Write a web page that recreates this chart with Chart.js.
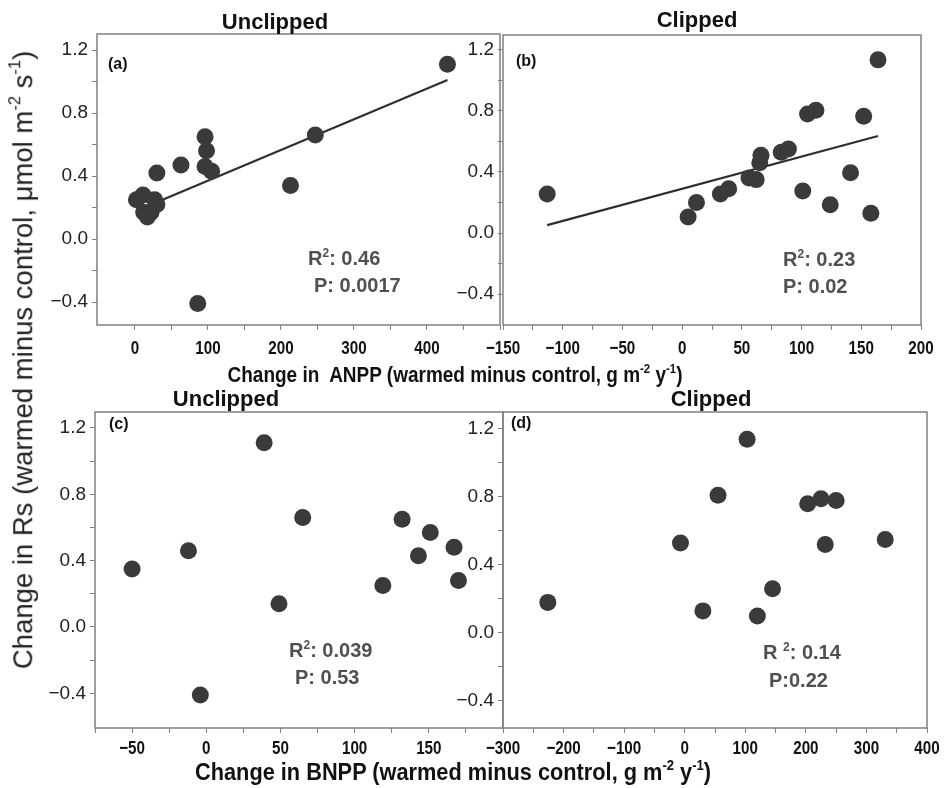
<!DOCTYPE html>
<html>
<head>
<meta charset="utf-8">
<script src="https://cdn.jsdelivr.net/npm/chart.js@4.4.1/dist/chart.umd.min.js"></script>
<style>
  html, body { margin:0; padding:0; background:#fff; }
  #wrap { position:relative; width:945px; height:788px; overflow:hidden; background:#fff; }
  .pn { position:absolute; }
  .t { position:absolute; white-space:nowrap; line-height:1; font-family:"Liberation Sans", Arial, sans-serif; }
  .ttl { font-size:22px; font-weight:bold; color:#111; transform:translateX(-50%); }
  .lab { font-size:16px; font-weight:bold; color:#111; }
  .st { font-size:20px; font-weight:bold; color:#505050; }
  .xt { font-weight:bold; color:#111; }
  .yt { font-size:27.5px; color:#222; transform:translate(-50%,-50%) rotate(-90deg); }
  .sp { font-size:0.6em; vertical-align:0.7em; line-height:0; }
</style>
</head>
<body>
<div id="wrap">
  <div class="pn" style="left:0;top:0;width:510px;height:365px"><canvas id="cA" width="510" height="365"></canvas></div>
  <div class="pn" style="left:455px;top:0;width:480px;height:365px"><canvas id="cB" width="480" height="365"></canvas></div>
  <div class="pn" style="left:0;top:370px;width:510px;height:410px"><canvas id="cC" width="510" height="410"></canvas></div>
  <div class="pn" style="left:455px;top:370px;width:490px;height:410px"><canvas id="cD" width="490" height="410"></canvas></div>

  <div class="t ttl" style="left:275px;top:11px">Unclipped</div>
  <div class="t ttl" style="left:697px;top:9px">Clipped</div>
  <div class="t ttl" style="left:226px;top:388px">Unclipped</div>
  <div class="t ttl" style="left:711px;top:388px">Clipped</div>

  <div class="t lab" style="left:108px;top:56px">(a)</div>
  <div class="t lab" style="left:516px;top:53px">(b)</div>
  <div class="t lab" style="left:109px;top:416px">(c)</div>
  <div class="t lab" style="left:511px;top:415px">(d)</div>

  <div class="t st" style="left:308px;top:248px">R<span class="sp">2</span>: 0.46</div>
  <div class="t st" style="left:314px;top:275px">P: 0.0017</div>
  <div class="t st" style="left:783px;top:249px">R<span class="sp">2</span>: 0.23</div>
  <div class="t st" style="left:783px;top:276px">P: 0.02</div>
  <div class="t st" style="left:289px;top:640px">R<span class="sp">2</span>: 0.039</div>
  <div class="t st" style="left:295px;top:667px">P: 0.53</div>
  <div class="t st" style="left:763px;top:642px">R <span class="sp">2</span>: 0.14</div>
  <div class="t st" style="left:769px;top:670px">P:0.22</div>

  <div class="t xt" data-w="455" style="left:455px;top:364px;font-size:22px">Change in&nbsp; ANPP (warmed minus control, g m<span class="sp">-2</span> y<span class="sp">-1</span>)</div>
  <div class="t xt" data-w="516" style="left:453px;top:760px;font-size:24px">Change in BNPP (warmed minus control, g m<span class="sp">-2</span> y<span class="sp">-1</span>)</div>
  <div class="t yt" style="left:23px;top:360px">Change in Rs (warmed minus control, μmol m<span class="sp">-2</span> s<span class="sp">-1</span>)</div>
</div>
<script>
// ---------- data ----------
const aX = [428, 247, 96, 98, 96, 105, 63, 30, 213, 86, 2, 11, 27, 30, 12, 22, 17];
const aY = [1.11, 0.66, 0.65, 0.56, 0.46, 0.43, 0.47, 0.42, 0.34, -0.41, 0.25, 0.28, 0.25, 0.22, 0.17, 0.17, 0.14];
const aLineX = [2, 428];
const aLineY = [0.18, 1.01];

const bX = [164, -113, 5, 12, 32, 39, 56, 62, 65, 66, 83, 89, 105, 112, 152, 101, 141, 124, 158];
const bY = [1.135, 0.255, 0.105, 0.2, 0.255, 0.29, 0.36, 0.35, 0.46, 0.51, 0.53, 0.55, 0.78, 0.805, 0.765, 0.275, 0.395, 0.185, 0.13];
const bLineX = [-113, 164];
const bLineY = [0.052, 0.636];

const cX = [39, 65, -50, -12, 49, -4, 132, 151, 167, 143, 119, 170];
const cY = [1.11, 0.66, 0.35, 0.46, 0.14, -0.41, 0.65, 0.57, 0.48, 0.43, 0.25, 0.28];

const dX = [103, 55, -7, -226, 30, 120, 145, 203, 225, 250, 232, 331];
const dY = [1.14, 0.81, 0.53, 0.18, 0.13, 0.10, 0.26, 0.76, 0.79, 0.78, 0.52, 0.55];

// tick values (all tick marks) and labelled ticks
const yTicks = [-0.4, -0.2, 0, 0.2, 0.4, 0.6, 0.8, 1.0, 1.2];
const yLabels = [-0.4, 0, 0.4, 0.8, 1.2];
const aXTicks = [0, 50, 100, 150, 200, 250, 300, 350, 400, 450, 500];
const aXLabels = [0, 100, 200, 300, 400];
const bXTicks = [-150, -125, -100, -75, -50, -25, 0, 25, 50, 75, 100, 125, 150, 175, 200];
const bXLabels = [-150, -100, -50, 0, 50, 100, 150, 200];
const cXTicks = [-75, -50, -25, 0, 25, 50, 75, 100, 125, 150, 175, 200];
const cXLabels = [-50, 0, 50, 100, 150];
const dXTicks = [-300, -250, -200, -150, -100, -50, 0, 50, 100, 150, 200, 250, 300, 350, 400];
const dXLabels = [-300, -200, -100, 0, 100, 200, 300, 400];

// ---------- drawing ----------
const DOT = '#3a3a3a';
const FRAME = '#808080';
const minus = s => String(s).replace('-', '\u2212');
const has = (arr, v) => arr.some(a => Math.abs(a - v) < 1e-6);

// frame + narrow bold x tick labels placed with the x scale
const framePlugin = {
  id: 'frame',
  afterDraw(chart) {
    const a = chart.chartArea, ctx = chart.ctx;
    ctx.save();
    ctx.strokeStyle = FRAME;
    ctx.lineWidth = 1.5;
    ctx.strokeRect(a.left, a.top, a.right - a.left, a.bottom - a.top);
    const p = chart.options.plugins.frame;
    const xs = chart.scales.x;
    ctx.fillStyle = '#111';
    ctx.font = 'bold 19px "Liberation Sans", Arial, sans-serif';
    ctx.textAlign = 'center';
    ctx.textBaseline = 'alphabetic';
    p.labels.forEach(v => {
      const px = xs.getPixelForValue(v);
      ctx.save();
      ctx.translate(px, a.bottom + p.base);
      ctx.scale(0.8, 1);
      ctx.fillText(minus(v), 0, 0);
      ctx.restore();
    });
    ctx.restore();
  }
};

function panel(id, p) {
  const datasets = [{
    data: p.x.map((v, i) => ({x: v, y: p.y[i]})),
    backgroundColor: DOT, borderWidth: 0, pointRadius: 8.5, pointHoverRadius: 8.5, order: 0
  }];
  if (p.lx) {
    datasets.push({
      data: p.lx.map((v, i) => ({x: v, y: p.ly[i]})),
      showLine: true, borderColor: '#2e2e2e', borderWidth: 2.2, pointRadius: 0, order: 1
    });
  }
  new Chart(document.getElementById(id), {
    type: 'scatter',
    data: {datasets},
    options: {
      responsive: false, animation: false, events: [], devicePixelRatio: 1,
      layout: {autoPadding: false, padding: {top: p.top, right: p.right, left: 0, bottom: 0}},
      plugins: {legend: {display: false}, tooltip: {enabled: false}, title: {display: false},
        frame: {labels: p.xl, base: p.base}},
      scales: {
        x: {
          type: 'linear', min: p.xmin, max: p.xmax,
          afterBuildTicks: s => { s.ticks = p.xt.map(v => ({value: v})); },
          afterFit: s => { s.height = p.xh; },
          grid: {drawOnChartArea: false, drawTicks: true, tickLength: 5, color: FRAME},
          border: {display: false},
          ticks: {autoSkip: false, maxRotation: 0, callback: () => ''}
        },
        y: {
          type: 'linear', min: p.ymin, max: p.ymax,
          afterBuildTicks: s => { s.ticks = yTicks.map(v => ({value: v})); },
          afterFit: s => { s.width = p.yw; },
          grid: {drawOnChartArea: false, drawTicks: true, tickLength: 5, color: FRAME},
          border: {display: false},
          ticks: {
            autoSkip: false, padding: 4, color: '#222',
            font: {family: '"Liberation Sans",Arial', size: 19},
            callback: v => has(yLabels, v) ? minus(v.toFixed(1)) : ''
          }
        }
      }
    },
    plugins: [framePlugin]
  });
}

panel('cA', {x: aX, y: aY, lx: aLineX, ly: aLineY, xmin: -52, xmax: 500, xt: aXTicks, xl: aXLabels,
  ymin: -0.546, ymax: 1.302, top: 34, right: 10, yw: 97, xh: 40, base: 29});
panel('cB', {x: bX, y: bY, lx: bLineX, ly: bLineY, xmin: -150, xmax: 200, xt: bXTicks, xl: bXLabels,
  ymin: -0.603, ymax: 1.298, top: 35, right: 14, yw: 48, xh: 40, base: 29});
panel('cC', {x: cX, y: cY, xmin: -75, xmax: 200, xt: cXTicks, xl: cXLabels,
  ymin: -0.609, ymax: 1.296, top: 42, right: 7, yw: 95, xh: 52, base: 26});
panel('cD', {x: dX, y: dY, xmin: -300, xmax: 400, xt: dXTicks, xl: dXLabels,
  ymin: -0.559, ymax: 1.3, top: 42, right: 18, yw: 48, xh: 52, base: 26});

// narrow the axis titles to the reference widths
document.querySelectorAll('.xt').forEach(el => {
  el.style.transform = 'none';
  const w = el.getBoundingClientRect().width;
  const s = parseFloat(el.dataset.w) / w;
  el.style.transform = 'translateX(-50%) scaleX(' + s.toFixed(4) + ')';
});
</script>
</body>
</html>
